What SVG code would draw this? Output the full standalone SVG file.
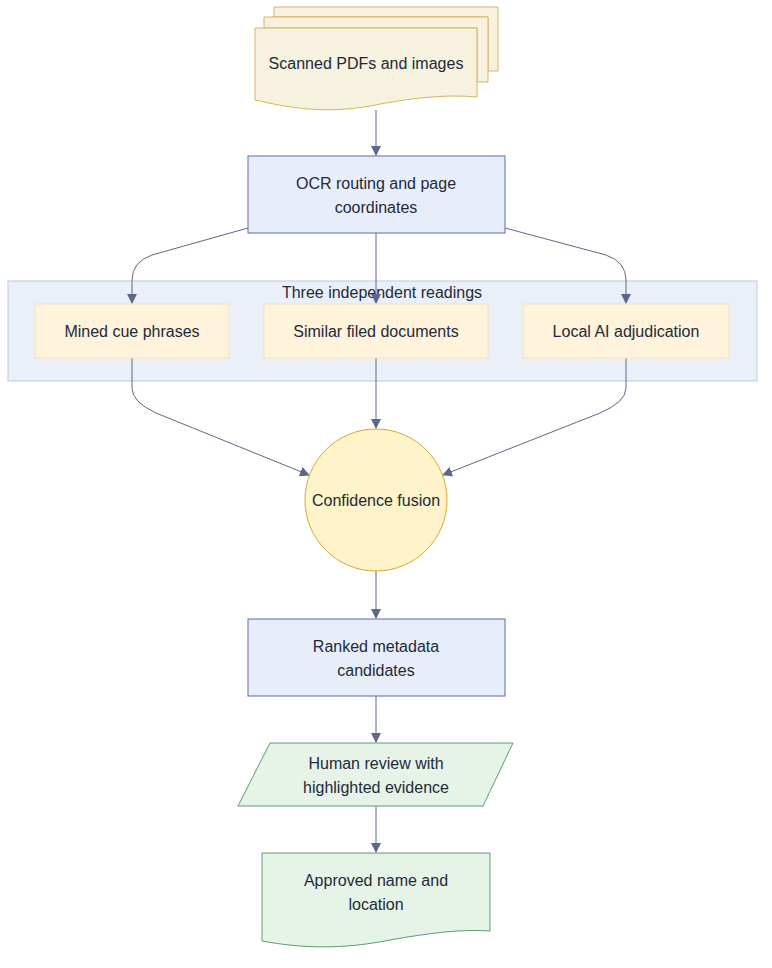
<svg xmlns="http://www.w3.org/2000/svg" width="772" height="968" viewBox="0 0 772 968">
<defs>
<style>
text{font-family:"Liberation Sans",Arial,sans-serif;font-size:16px;fill:#222a3a;text-anchor:middle;dominant-baseline:central}
.edge{fill:none;stroke:#5b6889;stroke-width:1}
.doc{fill:#f7f1df;stroke:#d6b55e;stroke-width:1}
.proc{fill:#e8eef9;stroke:#5a6da6;stroke-width:1}
.read{fill:#fff3dc;stroke:#f3e2c0;stroke-width:1}
.green{fill:#e6f4e7;stroke:#5f9b6d;stroke-width:1}
</style>
<marker id="arr" viewBox="0 0 10 10" refX="9" refY="5" markerUnits="userSpaceOnUse" markerWidth="10" markerHeight="10" orient="auto">
<path d="M0,0 L10,5 L0,10 z" fill="#5b6889"/>
</marker>
</defs>
<rect width="772" height="968" fill="#ffffff"/>

<g id="cluster">
<rect x="8" y="281" width="749" height="100" fill="#ebf0f8" stroke="#b9c9e3" stroke-width="1"/>
<text x="382" y="292">Three independent readings</text>
</g>

<g id="edges">
<path class="edge" d="M376,110 V155" marker-end="url(#arr)"/>
<path class="edge" d="M248,228 L152,255 Q132,262 132,280 V303" marker-end="url(#arr)"/>
<path class="edge" d="M376,233 V303" marker-end="url(#arr)"/>
<path class="edge" d="M505,228 L606,255 Q626,262 626,280 V303" marker-end="url(#arr)"/>
<path class="edge" d="M132,358 V388 Q132,402 156,413 L309,475" marker-end="url(#arr)"/>
<path class="edge" d="M376,358 V428" marker-end="url(#arr)"/>
<path class="edge" d="M626,358 V388 Q626,402 600,413 L443,475" marker-end="url(#arr)"/>
<path class="edge" d="M376,571 V618" marker-end="url(#arr)"/>
<path class="edge" d="M376,696 V742" marker-end="url(#arr)"/>
<path class="edge" d="M376,806 V852" marker-end="url(#arr)"/>
</g>

<g id="scanned">
<path class="doc" d="M274,7 H498 V71 H488 V17 H274 Z"/>
<path class="doc" d="M264,17 H488 V82 H477 V28 H264 Z"/>
<path class="doc" d="M255,28 H477 V97 C445,94 410,98 370,106 C325,114 290,108 255,100 Z"/>
<text x="366" y="63">Scanned PDFs and images</text>
</g>

<g id="ocr">
<rect class="proc" x="248" y="156" width="257" height="77"/>
<text x="376" y="183">OCR routing and page</text>
<text x="376" y="207">coordinates</text>
</g>

<g id="mined">
<rect class="read" x="35" y="304" width="194" height="54"/>
<text x="132" y="331">Mined cue phrases</text>
</g>

<g id="similar">
<rect class="read" x="264" y="304" width="224" height="54"/>
<text x="376" y="331">Similar filed documents</text>
</g>

<g id="localai">
<rect class="read" x="523" y="304" width="206" height="54"/>
<text x="626" y="331">Local AI adjudication</text>
</g>

<g id="fusion">
<circle cx="376" cy="500" r="71" fill="#fef3c9" stroke="#d6a936" stroke-width="1"/>
<text x="376" y="500">Confidence fusion</text>
</g>

<g id="ranked">
<rect class="proc" x="248" y="619" width="257" height="77"/>
<text x="376" y="646">Ranked metadata</text>
<text x="376" y="670">candidates</text>
</g>

<g id="review">
<path class="green" d="M270,743 H513 L483,806 H238 Z"/>
<text x="376" y="763">Human review with</text>
<text x="376" y="787">highlighted evidence</text>
</g>

<g id="approved">
<path class="green" d="M262,853 H490 V931 C460,929 430,933 390,940 C340,950 300,948 262,941 Z"/>
<text x="376" y="880">Approved name and</text>
<text x="376" y="904">location</text>
</g>
</svg>
